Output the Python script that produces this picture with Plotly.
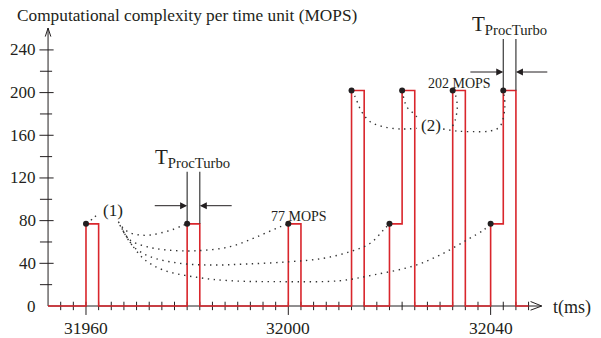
import numpy as np
import plotly.graph_objects as go

# ---------------- data ----------------
# step signal: change points (ms) and MOPS level held from that time on
sig_t = [31952.5, 31960, 31962.5, 31980, 31982.5, 32000, 32002.5, 32012.5, 32015,
         32020, 32022.5, 32025, 32032.5, 32035, 32040, 32042.5, 32045, 32047.5]
sig_v = [0, 77, 0, 77, 0, 77, 0, 202, 0, 77, 202, 0, 202, 0, 77, 202, 0, 0]

# black dots (start of processing)
dot_t = [31960, 31980, 32000, 32020, 32040, 32012.5, 32022.5, 32032.5, 32042.5]
dot_v = [77, 77, 77, 77, 77, 202, 202, 202, 202]

# dotted links, group (1)
c0_t = [31960, 31961.5, 31962.6]
c0_v = [77, 82.5, 87.5]
ca_t = [31966.4, 31967.4, 31968.7, 31970.7, 31972.7, 31975.3, 31977.3, 31978.9, 31980]
ca_v = [79.0, 72.8, 68.7, 66.5, 66.5, 69.1, 71.9, 75.0, 77]
cb_t = [31966.7, 31968.7, 31972.0, 31976.0, 31981.9, 31988.5, 31993.8, 31998.4, 32000]
cb_v = [75.9, 61.9, 55.6, 52.5, 51.8, 55.6, 64.9, 74.3, 77]
cc_t = [31967.1, 31969.4, 31972.7, 31978.6, 31985.2, 31991.8, 32000.3, 32006.9, 32012.2,
        32016.2, 32018.8, 32020]
cc_v = [72.8, 55.6, 46.2, 40.0, 38.4, 39.4, 41.5, 44.7, 50.9, 58.8, 71.2, 77]
cd_t = [31967.4, 31971.3, 31975.3, 31981.9, 31988.5, 31998.4, 32010.2, 32016.8, 32024.7,
        32030.0, 32035.3, 32038.6, 32040]
cd_v = [69.6, 44.7, 33.7, 26.9, 23.7, 22.8, 23.7, 29.1, 37.5, 47.8, 61.9, 71.2, 77]

# dotted links, group (2)
ce_t = [32012.5, 32013.2, 32014.5, 32016.2, 32018.8, 32022.1, 32025.4]
ce_v = [202, 196.2, 182.1, 172.7, 168.0, 165.9, 166.5]
cf_t = [32022.5, 32023.4, 32024.4, 32025.4, 32026.0]
cf_v = [202, 186.8, 182.1, 177.4, 174.3]
cg_t = [32030.6, 32033.3, 32036.6, 32039.9, 32041.8, 32042.8, 32042.5]
cg_v = [165.9, 164.0, 163.4, 164.0, 168.0, 186.0, 202]
ch_t = [32032.5, 32033.0, 32033.4, 32033.0, 32032.4]
ch_v = [202, 198.4, 186.8, 174.3, 168.0]

# axes
y_major = [0, 40, 80, 120, 160, 200, 240]
y_minor = [20, 60, 100, 140, 180, 220]
x_major = [31960, 32000, 32040]
x_minor = [v for v in np.arange(31955, 32048, 2.5) if v not in x_major]
x_labels = ["31960", "32000", "32040"]

title = "Computational complexity per time unit (MOPS)"

RED = "#d9262c"
INK = "#231f20"
SERIF = "Liberation Serif"

X0 = 31952.5   # y-axis position
XEND = 32050.1  # x-axis arrow tip
YEND = 260.5    # y-axis arrow tip

fig = go.Figure()

# axis lines
fig.add_trace(go.Scatter(x=[X0, XEND], y=[0, 0], mode="lines",
                         line=dict(color=INK, width=1), hoverinfo="skip"))
fig.add_trace(go.Scatter(x=[X0, X0], y=[0, YEND], mode="lines",
                         line=dict(color=INK, width=1), hoverinfo="skip"))
# arrow heads (open)
fig.add_trace(go.Scatter(x=[XEND - 2.2, XEND, XEND - 2.2], y=[4.2, 0, -3.9], mode="lines",
                         line=dict(color=INK, width=1), hoverinfo="skip"))
fig.add_trace(go.Scatter(x=[X0 - 0.55, X0, X0 + 0.55], y=[YEND - 8, YEND, YEND - 8],
                         mode="lines", line=dict(color=INK, width=1), hoverinfo="skip"))

# ticks
tx, ty = [], []
for v in x_minor:
    tx += [v, v, None]; ty += [4, -3.9, None]
for v in x_major:
    tx += [v, v, None]; ty += [4, -8.4, None]
for v in y_minor:
    tx += [X0 - 1.6, X0 + 0.8, None]; ty += [v, v, None]
for v in y_major[1:]:
    tx += [X0 - 1.7, X0 + 1.1, None]; ty += [v, v, None]
fig.add_trace(go.Scatter(x=tx, y=ty, mode="lines", line=dict(color=INK, width=1),
                         hoverinfo="skip"))

# signal
fig.add_trace(go.Scatter(x=sig_t, y=sig_v, mode="lines", line_shape="hv",
                         line=dict(color=RED, width=1.6), hoverinfo="skip"))

# T_ProcTurbo guide lines
gx = [31980, 31980, None, 31982.5, 31982.5, None, 32042.5, 32042.5, None, 32045, 32045]
gy = [77, 125.9, None, 77, 125.9, None, 202, 250.2, None, 202, 250.2]
fig.add_trace(go.Scatter(x=gx, y=gy, mode="lines", line=dict(color="#3a3a3a", width=1.2),
                         hoverinfo="skip"))

# dotted curves
for ct, cv in [(c0_t, c0_v), (ca_t, ca_v), (cb_t, cb_v), (cc_t, cc_v), (cd_t, cd_v),
               (ce_t, ce_v), (cf_t, cf_v), (cg_t, cg_v), (ch_t, ch_v)]:
    fig.add_trace(go.Scatter(x=ct, y=cv, mode="lines", line_shape="spline",
                             line=dict(color="#333333", width=1.4, dash="1.4px,4.6px"),
                             hoverinfo="skip"))

# dots
fig.add_trace(go.Scatter(x=dot_t, y=dot_v, mode="markers",
                         marker=dict(color=INK, size=6), hoverinfo="skip"))

ann = []
# tick labels
for v in y_major:
    ann.append(dict(x=31950.6, y=v, text=str(v), xanchor="right", yanchor="middle",
                    showarrow=False, font=dict(family=SERIF, size=17, color=INK)))
for v, s in zip(x_major, x_labels):
    ann.append(dict(x=v, y=-20.6, text=s, xanchor="center", yanchor="middle",
                    showarrow=False, font=dict(family=SERIF, size=17.5, color=INK)))
ann.append(dict(x=32051.85, y=-1.4, text="t(ms)", xanchor="left", yanchor="middle",
                showarrow=False, font=dict(family=SERIF, size=18, color=INK)))
ann.append(dict(x=31945.96, y=272.7, text=title, xanchor="left", yanchor="middle",
                showarrow=False, font=dict(family=SERIF, size=17.3, color=INK)))
# labels
for x, y, s, fs in [(31965.3, 89.5, "(1)", 17), (32028.3, 169.2, "(2)", 17),
                    (32002.2, 84.3, "77 MOPS", 14), (32033.9, 209, "202 MOPS", 14)]:
    ann.append(dict(x=x, y=y, text=s, xanchor="center", yanchor="middle", showarrow=False,
                    font=dict(family=SERIF, size=fs, color=INK)))
for x, y in [(31981.1, 138.7), (32043.7, 263.4)]:
    ann.append(dict(x=x, y=y, text="T<sub>ProcTurbo</sub>", xanchor="center",
                    yanchor="middle", showarrow=False,
                    font=dict(family=SERIF, size=21, color=INK)))
# arrows
for hx, tx_, yy in [(31980, 31973.3, 94.0), (31982.5, 31989.1, 94.0),
                    (32042.5, 32035.7, 219.3), (32045, 32051.5, 219.3)]:
    ann.append(dict(x=hx, y=yy, ax=tx_, ay=yy, axref="x", ayref="y", xref="x", yref="y",
                    text="", showarrow=True, arrowhead=2, arrowsize=1.4, arrowwidth=1,
                    arrowcolor=INK, standoff=0))

fig.update_layout(
    width=601, height=338, margin=dict(l=0, r=0, t=0, b=0),
    paper_bgcolor="white", plot_bgcolor="white", showlegend=False,
    xaxis=dict(visible=False, range=[31943.0, 32061.82]),
    yaxis=dict(visible=False, range=[-29.99, 286.79]),
    annotations=ann,
)
fig.write_html("out.html")
